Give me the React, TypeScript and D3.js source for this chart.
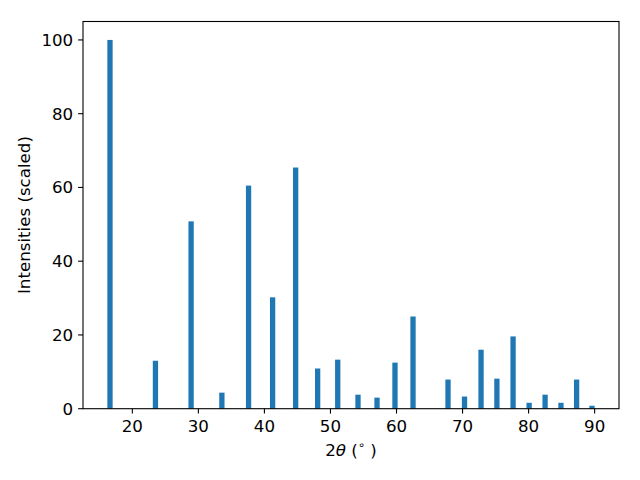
import React from "react";
import * as d3 from "d3";

const twoTheta = [16.62, 23.5, 28.9, 33.56, 37.6, 41.24, 44.73, 48.06, 51.1, 54.17, 57.05, 59.77, 62.5, 67.8, 70.3, 72.8, 75.2, 77.65, 80.08, 82.5, 84.9, 87.27, 89.6];
const intensity = [100, 13.0, 50.8, 4.35, 60.5, 30.2, 65.4, 10.9, 13.3, 3.8, 3.0, 12.5, 25.0, 7.9, 3.3, 16.0, 8.15, 19.6, 1.6, 3.8, 1.6, 7.9, 0.8];
const xTicks = [20, 30, 40, 50, 60, 70, 80, 90];
const yTicks = [0, 20, 40, 60, 80, 100];
const barWidth = 0.8;

export default function App() {
  const W = 640, H = 480;
  const left = 83, right = 619, top = 21.5, bottom = 408.7;
  const xmin = d3.min(twoTheta)! - barWidth / 2;
  const xmax = d3.max(twoTheta)! + barWidth / 2;
  const pad = (xmax - xmin) * 0.05;
  const x = d3.scaleLinear().domain([xmin - pad, xmax + pad]).range([left, right]);
  const y = d3.scaleLinear().domain([0, 105]).range([bottom, top]);
  const font = "DejaVu Sans, sans-serif";
  const fs = 16.67;
  return (
    <svg width={W} height={H} style={{ position: "absolute", left: 0, top: 0 }} fontFamily={font}>
      <rect width={W} height={H} fill="white" />
      {twoTheta.map((t, i) => (
        <rect key={i} x={x(t - barWidth / 2)} width={x(t + barWidth / 2) - x(t - barWidth / 2)} y={y(intensity[i])} height={y(0) - y(intensity[i])} fill="#1f77b4" />
      ))}
      <rect x={left} y={top} width={right - left} height={bottom - top} fill="none" stroke="black" strokeWidth={1.1} />
      {xTicks.map((t) => (
        <g key={t}>
          <line x1={x(t)} x2={x(t)} y1={bottom} y2={bottom + 4.9} stroke="black" strokeWidth={1.1} />
          <text x={x(t)} y={432} textAnchor="middle" fontSize={fs}>{t}</text>
        </g>
      ))}
      {yTicks.map((t) => (
        <g key={t}>
          <line x1={left - 4.9} x2={left} y1={y(t)} y2={y(t)} stroke="black" strokeWidth={1.1} />
          <text x={left - 9.8} y={y(t)} dy="0.36em" textAnchor="end" fontSize={fs}>{t}</text>
        </g>
      ))}
      <text x={(left + right) / 2} y={456} textAnchor="middle" fontSize={fs}>
        2<tspan fontStyle="italic">θ</tspan> (<tspan fontSize={11.5} dy={-7}>∘</tspan><tspan dy={7}> )</tspan>
      </text>
      <text transform={`translate(30, ${(top + bottom) / 2}) rotate(-90)`} textAnchor="middle" fontSize={fs}>Intensities (scaled)</text>
    </svg>
  );
}
